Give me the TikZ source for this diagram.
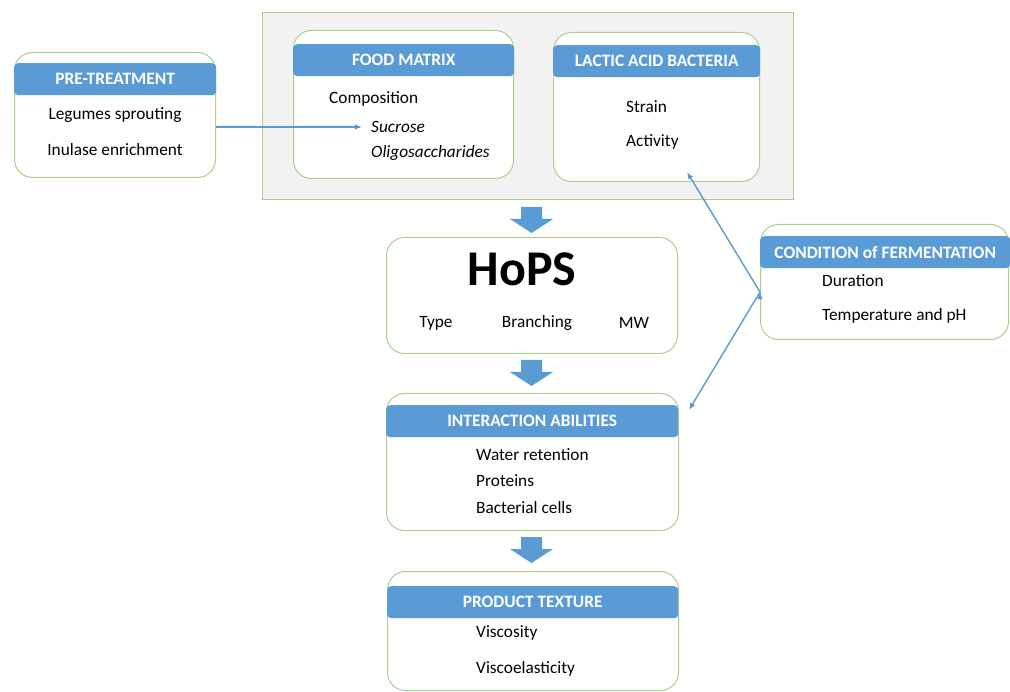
\documentclass[tikz,border=0pt]{standalone}
\usepackage{fontspec}
\setmainfont{Carlito}
\usepackage{tikz}
\usetikzlibrary{arrows.meta,positioning}

\definecolor{hdrblue}{HTML}{5B9BD5}
\definecolor{boxgreen}{HTML}{A9D18E}
\definecolor{panelgray}{HTML}{F2F2F2}

\tikzset{
    panel/.style={draw=boxgreen, fill=panelgray, line width=1pt, inner sep=0pt, anchor=north west},
    card/.style={draw=boxgreen, fill=white, rounded corners=18pt, line width=1pt, inner sep=0pt, anchor=north west},
    header/.style={fill=hdrblue, rounded corners=4pt, text=white, inner sep=0pt, anchor=north west,
        minimum height=32pt, font=\fontsize{17.4}{20}\selectfont\bfseries},
    item/.style={inner sep=0pt, anchor=west, font=\fontsize{17.3}{20}\selectfont},
    citem/.style={item, anchor=center},
    link/.style={draw=hdrblue, line width=1.4pt, -{Latex[length=2.5mm, width=2mm]}}
}

\begin{document}
\begin{tikzpicture}[x=1pt, y=-1pt]
    \useasboundingbox (0,0) rectangle (1010,692);

    \node[panel, minimum width=531pt, minimum height=187pt] (mpanel) at (262,12) {};

    \node[card, minimum width=201pt, minimum height=125pt] (pretreat) at (14,52) {};
    \node[header, minimum width=202pt] (pretreat-h) at (14,63) {PRE-TREATMENT};
    \node[citem] (sprout) at (115,115) {Legumes sprouting};
    \node[citem] (inulase) at (115,150) {Inulase enrichment};

    \node[card, minimum width=220pt, minimum height=148pt] (food) at (293,30) {};
    \node[header, minimum width=221pt] (food-h) at (293,44) {FOOD MATRIX};
    \node[item] (compo) at (329,99) {Composition};
    \node[item] (sucrose) at (371,127) {\itshape Sucrose};
    \node[item] (oligo) at (371,153) {\itshape Oligosaccharides};

    \node[card, minimum width=206pt, minimum height=149pt] (lab) at (553,32) {};
    \node[header, minimum width=207pt] (lab-h) at (553,45) {LACTIC ACID BACTERIA};
    \node[item] (strain) at (626,107) {Strain};
    \node[item] (activity) at (626,142) {Activity};

    \node[card, minimum width=248pt, minimum height=115pt] (cond) at (760,224) {};
    \node[header, minimum width=250pt] (cond-h) at (760,236) {CONDITION of FERMENTATION};
    \node[item] (duration) at (822,281) {Duration};
    \node[item] (temp) at (822,316) {Temperature and pH};

    \node[card, minimum width=291pt, minimum height=116pt] (hops) at (386,237) {};
    \node[inner sep=0pt, font=\fontsize{50}{54}\selectfont\bfseries] (hops-t) at (522,269) {HoPS};
    \node[citem] (type) at (436,323) {Type};
    \node[citem] (branch) at (537,323) {Branching};
    \node[citem] (mw) at (634,323) {MW};

    \node[card, minimum width=292pt, minimum height=137pt] (inter) at (386,393) {};
    \node[header, minimum width=292pt] (inter-h) at (386,405) {INTERACTION ABILITIES};
    \node[item] (water) at (476,455) {Water retention};
    \node[item] (prot) at (476,481) {Proteins};
    \node[item] (cells) at (476,508) {Bacterial cells};

    \node[card, minimum width=291pt, minimum height=119pt] (texture) at (387,571) {};
    \node[header, minimum width=291pt] (texture-h) at (387,586) {PRODUCT TEXTURE};
    \node[item] (visc) at (476,633) {Viscosity};
    \node[item] (viscoel) at (476,669) {Viscoelasticity};

    \coordinate (condin) at ([yshift=-10pt]cond.west);
    \coordinate (labin) at ([xshift=-73pt, yshift=10pt]lab.south east);
    \coordinate (interin) at ([xshift=10pt, yshift=-17pt]inter.north east);

    \path[link]
    (pretreat.east |- sucrose) edge ([xshift=-9pt]sucrose.west)
    (condin) edge (labin)
             edge (interin);

    \foreach \y in {207,360,537}
        \fill[hdrblue] (521,\y) -- (542,\y) -- (542,\y+12) -- (553,\y+12)
            -- (531.5,\y+26) -- (510,\y+12) -- (521,\y+12) -- cycle;
\end{tikzpicture}
\end{document}
